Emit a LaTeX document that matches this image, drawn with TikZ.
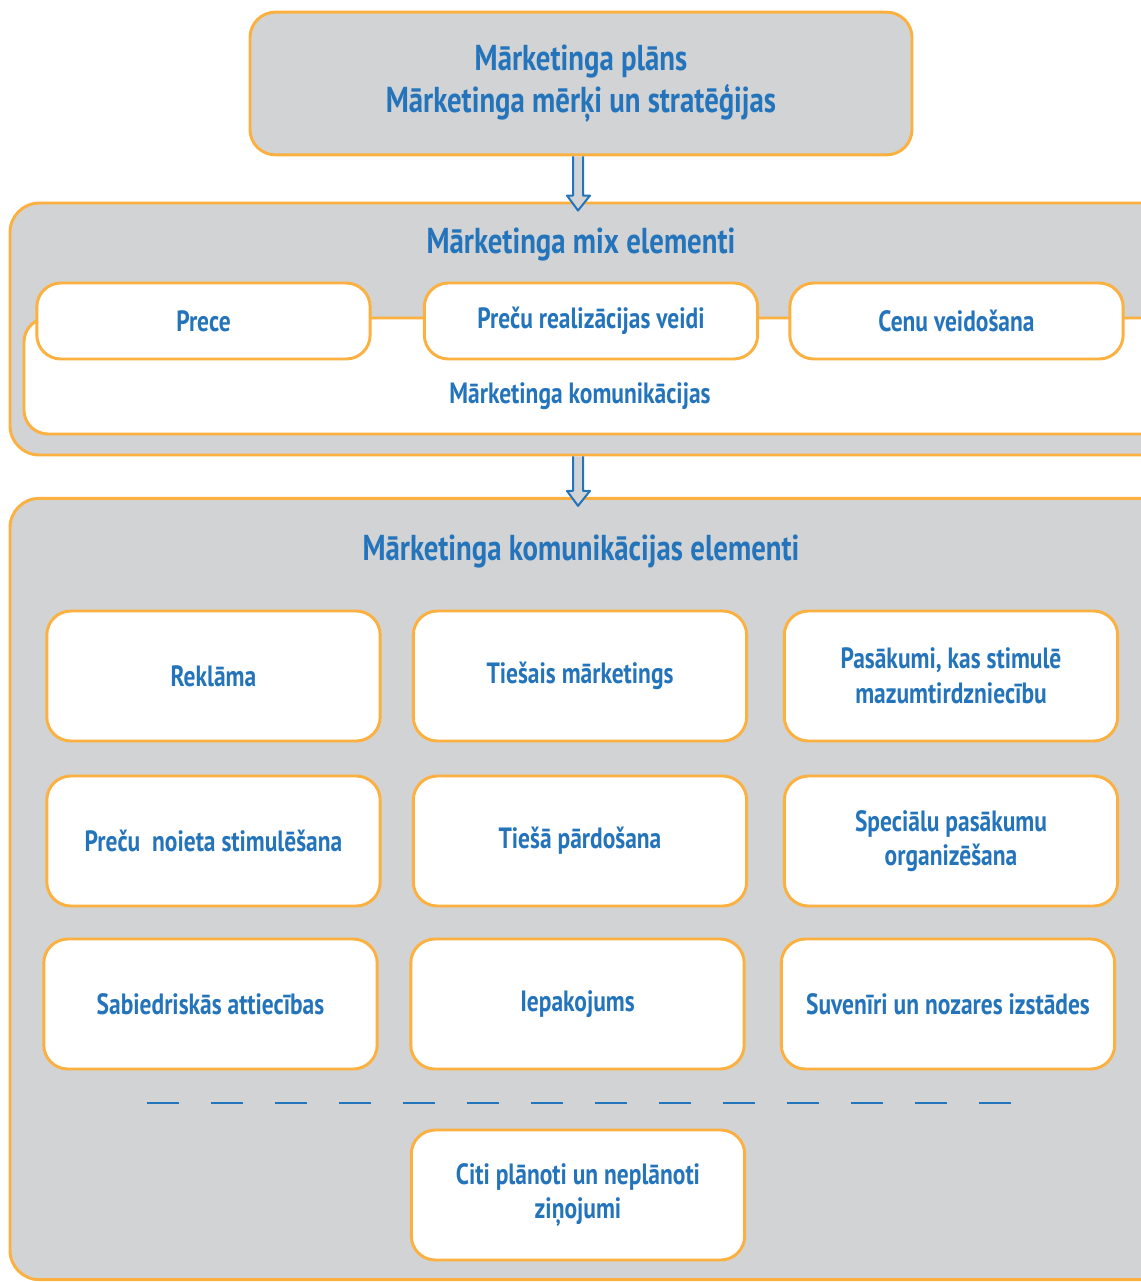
\documentclass[tikz,border=0pt]{standalone}
\usepackage{fontspec}
\setmainfont{PT Sans}[FakeStretch=0.8]
\usetikzlibrary{arrows.meta,positioning,calc}
\definecolor{mkgray}{HTML}{D1D3D4}
\definecolor{mkorange}{HTML}{FBB040}
\definecolor{mkblue}{HTML}{2474BB}

\begin{document}
\begin{tikzpicture}[
  x=0.75pt, y=-0.75pt,
  font=\bfseries\fontsize{22}{26}\selectfont,
  frame/.style={draw=mkorange, line width=2.2pt, fill=mkgray, rounded corners=22pt, inner sep=0pt},
  wbox/.style={draw=mkorange, line width=2.2pt, fill=white, rounded corners=18pt, text=mkblue,
    align=center, minimum width=250pt, inner sep=0pt},
  mixbox/.style={wbox, minimum height=57pt},
  elbox/.style={wbox, minimum height=97.5pt},
  ttl/.style={text=mkblue, font=\bfseries\fontsize{27}{31.5}\selectfont, align=center},
  blockarr/.style={draw=mkblue, line width=1.5pt, fill=mkgray, line join=round},
]
\clip (0,0) rectangle (1141,1282);

% marketing plan
\node[frame, rounded corners=19pt, minimum width=496.5pt, minimum height=107pt] (plan) at (581,83.5) {};
\node[ttl] (plantxt) at (plan) {Mārketinga plāns\\Mārketinga mērķi un stratēģijas};

% marketing mix
\node[frame, minimum width=870pt, minimum height=189pt] (mix) at (590,329) {};
\node[ttl] (mixtxt) at (581,245) {Mārketinga mix elementi};
\node[wbox, minimum width=859.5pt, minimum height=87pt] (komm) at (597,376) {};
\node[text=mkblue] (kommtxt) at (580,396) {Mārketinga komunikācijas};
\node[mixbox] (prece) at (203.5,321) {Prece};
\node[mixbox] (real) at (591,321) {Preču realizācijas veidi};
\node[mixbox] (cena) at (956.5,321) {Cenu veidošana};

% communication elements
\node[frame, minimum width=870pt, minimum height=586pt] (elem) at (590,889) {};
\node[ttl] (elemtxt) at (581,552) {Mārketinga komunikācijas elementi};

\node[elbox] (reklama) at (213.5,676) {Reklāma};
\node[elbox] (tmark) at (580,676) {Tiešais mārketings};
\node[elbox] (pasak) at (951,676) {Pasākumi, kas stimulē\\mazumtirdzniecību};
\node[elbox] (noiets) at (213.5,841) {Preču~ noieta stimulēšana};
\node[elbox] (tpard) at (580,841) {Tiešā pārdošana};
\node[elbox] (specp) at (951,841) {Speciālu pasākumu\\organizēšana};
\node[elbox] (sabattv) at (210.5,1004) {Sabiedriskās attiecības};
\node[elbox] (iepak) at (577.5,1004) {Iepakojums};
\node[elbox] (suven) at (948,1004) {Suvenīri un nozares izstādes};
\node[elbox] (citi) at (578,1195) {Citi plānoti un neplānoti\\ziņojumi};

% dashed separator
\coordinate (dl) at (147,1103);
\coordinate (dr) at (1011,1103);
\draw[mkblue, line width=2.2pt, dash pattern=on 24pt off 24pt] (dl) -- (dr);

% arrows between levels
\foreach \a/\b in {plan/mix, mix/elem} {
  \draw[blockarr] ($(plan.south |- \a.south)+(-8,0)$) -- ($(plan.south |- \b.north)+(-8,-6)$) -- ++(-6,0)
    -- ($(plan.south |- \b.north)+(-3,9)$)
    -- ($(plan.south |- \b.north)+(9,-6)$) -- ++(-7,0) -- ($(plan.south |- \a.south)+(2,0)$);
}
\end{tikzpicture}
\end{document}
